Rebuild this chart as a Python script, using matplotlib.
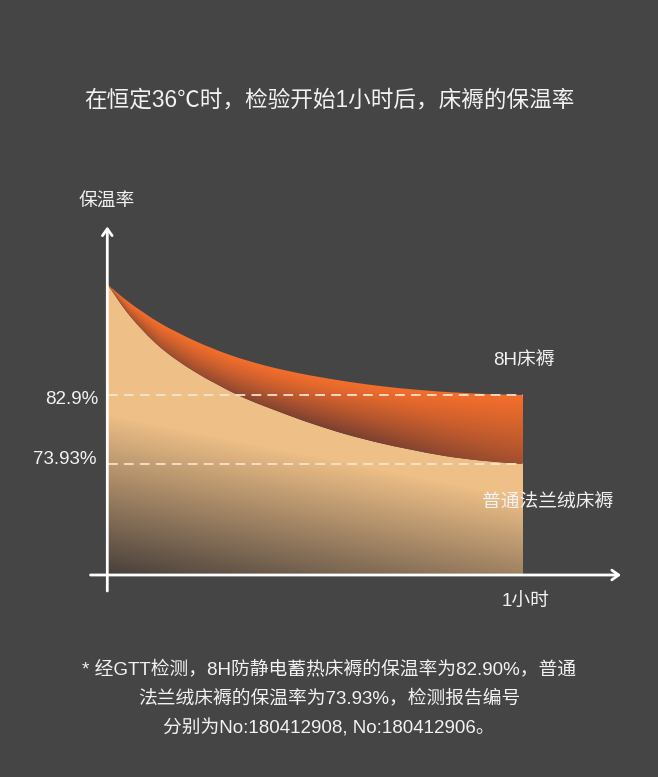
import numpy as np
import matplotlib
matplotlib.use('Agg')
import matplotlib.pyplot as plt
from matplotlib.path import Path
from matplotlib.patches import PathPatch

plt.rcParams['font.family'] = ['Liberation Sans', 'Noto Sans CJK SC', 'DejaVu Sans']

# data (time in hours, heat retention in %)
t_top = [0, 0.053, 0.125, 0.210, 0.294, 0.378, 0.463, 0.559, 0.655, 0.752, 0.848, 0.945, 1.0]
top = [97.2, 94.86, 92.26, 89.92, 88.1, 86.74, 85.70, 84.79, 84.07, 83.55, 83.19, 82.97, 82.9]
t_bot = [0, 0.053, 0.125, 0.210, 0.318, 0.414, 0.487, 0.571, 0.655, 0.728, 0.812, 0.896, 0.969, 1.0]
bot = [97.2, 93.17, 89.14, 85.89, 82.77, 80.69, 79.26, 77.83, 76.66, 75.82, 74.97, 74.39, 74.06, 73.93]
end_vals = [82.9, 73.93]
end_labels = ['82.9%', '73.93%']
series_names = ['8H床褥', '普通法兰绒床褥']

title = '在恒定36℃时，检验开始1小时后，床褥的保温率'
y_name = '保温率'
x_name = '1小时'
note = ['* 经GTT检测，8H防静电蓄热床褥的保温率为82.90%，普通',
        '法兰绒床褥的保温率为73.93%，检测报告编号',
        '分别为No:180412908, No:180412906。']

BG = '#454545'
W, H = 658, 777

fig = plt.figure(figsize=(W / 100, H / 100), dpi=100, facecolor=BG)
ax = fig.add_axes([0, 0, 1, 1])
ax.set_facecolor(BG)
ax.axis('off')

# pixel layout -> data scale
x0px, x1px = 108, 523
ya_px, yb_px = 395, 464
ppx = (x1px - x0px) / (t_top[-1] - t_top[0])
ppy = (yb_px - ya_px) / (end_vals[0] - end_vals[1])


def px2x(px):
    return (px - x0px) / ppx


def px2y(py):
    return end_vals[0] - (py - ya_px) / ppy


ax.set_xlim(px2x(0), px2x(W))
ax.set_ylim(px2y(H), px2y(0))
base = px2y(575)


def smooth(xs, ys):
    # catmull-rom through the read points, as bezier segments
    p = np.column_stack([xs, ys])
    p = np.vstack([p[0], p, p[-1]])
    verts, codes = [], []
    for i in range(1, len(p) - 2):
        c1 = p[i] + (p[i + 1] - p[i - 1]) / 6
        c2 = p[i + 1] - (p[i + 2] - p[i]) / 6
        verts += [tuple(c1), tuple(c2), tuple(p[i + 1])]
        codes += [Path.CURVE4] * 3
    return verts, codes


# gradient images
yy, xx = np.mgrid[0:H, 0:W] + 0.5
xd = px2x(xx)
yd = px2y(yy)

beige = np.array([238, 191, 135]) / 255
dark = np.array([70, 62, 58]) / 255
tb = np.clip((-0.2 * xx + yy - 393) * 0.0062, 0, 1)[..., None]
img_b = beige * (1 - tb) + dark * tb

orange = np.array([243, 110, 44]) / 255
brown = np.array([122, 64, 48]) / 255
topi = np.interp(xd[0], t_top, top)[None, :]
boti = np.interp(xd[0], t_bot, bot)[None, :]
s = np.clip((topi - yd) / (topi - boti + 1e-9), 0, 1)
f = 0.55 + 0.45 * np.exp(-((xx - 340) / 160) ** 2)
to = (s ** 1.2 * f)[..., None]
img_o = orange * (1 - to) + brown * to

ext = (px2x(0), px2x(W), px2y(H), px2y(0))

# lower region (under 普通法兰绒床褥 curve)
vb, cb = smooth(t_bot, bot)
verts = [(t_bot[0], bot[0])] + vb + [(t_bot[-1], base), (t_bot[0], base), (t_bot[0], bot[0])]
codes = [Path.MOVETO] + cb + [Path.LINETO, Path.LINETO, Path.CLOSEPOLY]
patch_b = PathPatch(Path(verts, codes), transform=ax.transData, facecolor='none', edgecolor='none')
ax.add_patch(patch_b)
im1 = ax.imshow(img_b, extent=ext, origin='upper', aspect='auto', zorder=1)
im1.set_clip_path(patch_b)

# band between the two curves
vt, ct = smooth(t_top, top)
vr, cr = smooth(t_bot[::-1], bot[::-1])
verts = [(t_top[0], top[0])] + vt + [(t_bot[-1], bot[-1])] + vr + [(t_top[0], top[0])]
codes = [Path.MOVETO] + ct + [Path.LINETO] + cr + [Path.CLOSEPOLY]
patch_o = PathPatch(Path(verts, codes), transform=ax.transData, facecolor='none', edgecolor='none')
ax.add_patch(patch_o)
im2 = ax.imshow(img_o, extent=ext, origin='upper', aspect='auto', zorder=2)
im2.set_clip_path(patch_o)

# dashed reference lines
for v in end_vals:
    ax.plot([t_top[0], t_top[-1]], [v, v], color='#F6E4CE', lw=1.4, alpha=0.9,
            dashes=(5, 3.2), zorder=3)

# axes arrows
arw = dict(arrowstyle='->,head_length=0.35,head_width=0.25', lw=2, color='white',
           mutation_scale=14, shrinkA=0, shrinkB=0)
ax.annotate('', xy=(px2x(107.3), px2y(226.5)), xytext=(px2x(107.3), px2y(591)),
            arrowprops=arw, zorder=4)
ax.annotate('', xy=(px2x(621), base), xytext=(px2x(90.5), base),
            arrowprops=arw, zorder=4)

tc = '#F2F2F2'
ax.text(px2x(98.5), px2y(399), end_labels[0], ha='right', va='center', fontsize=13.5, color=tc)
ax.text(px2x(96.5), px2y(460), end_labels[1], ha='right', va='center', fontsize=13.5, color=tc)
ax.text(px2x(524), px2y(360), series_names[0], ha='center', va='center', fontsize=13.5, color=tc)
ax.text(px2x(548), px2y(503), series_names[1], ha='center', va='center', fontsize=13.5, color=tc)
ax.text(px2x(525.5), px2y(602), x_name, ha='center', va='center', fontsize=13.5, color=tc)
ax.text(px2x(106.5), px2y(202), y_name, ha='center', va='center', fontsize=13.5, color=tc)

fig.text(329 / W, 1 - 100 / H, title, ha='center', va='center', fontsize=16.3, color=tc)
for i, line in enumerate(note):
    fig.text(329 / W, 1 - (670 + 29.2 * i) / H, line, ha='center', va='center',
             fontsize=13.5, color=tc)

fig.savefig('out.png', dpi=100, facecolor=BG)
